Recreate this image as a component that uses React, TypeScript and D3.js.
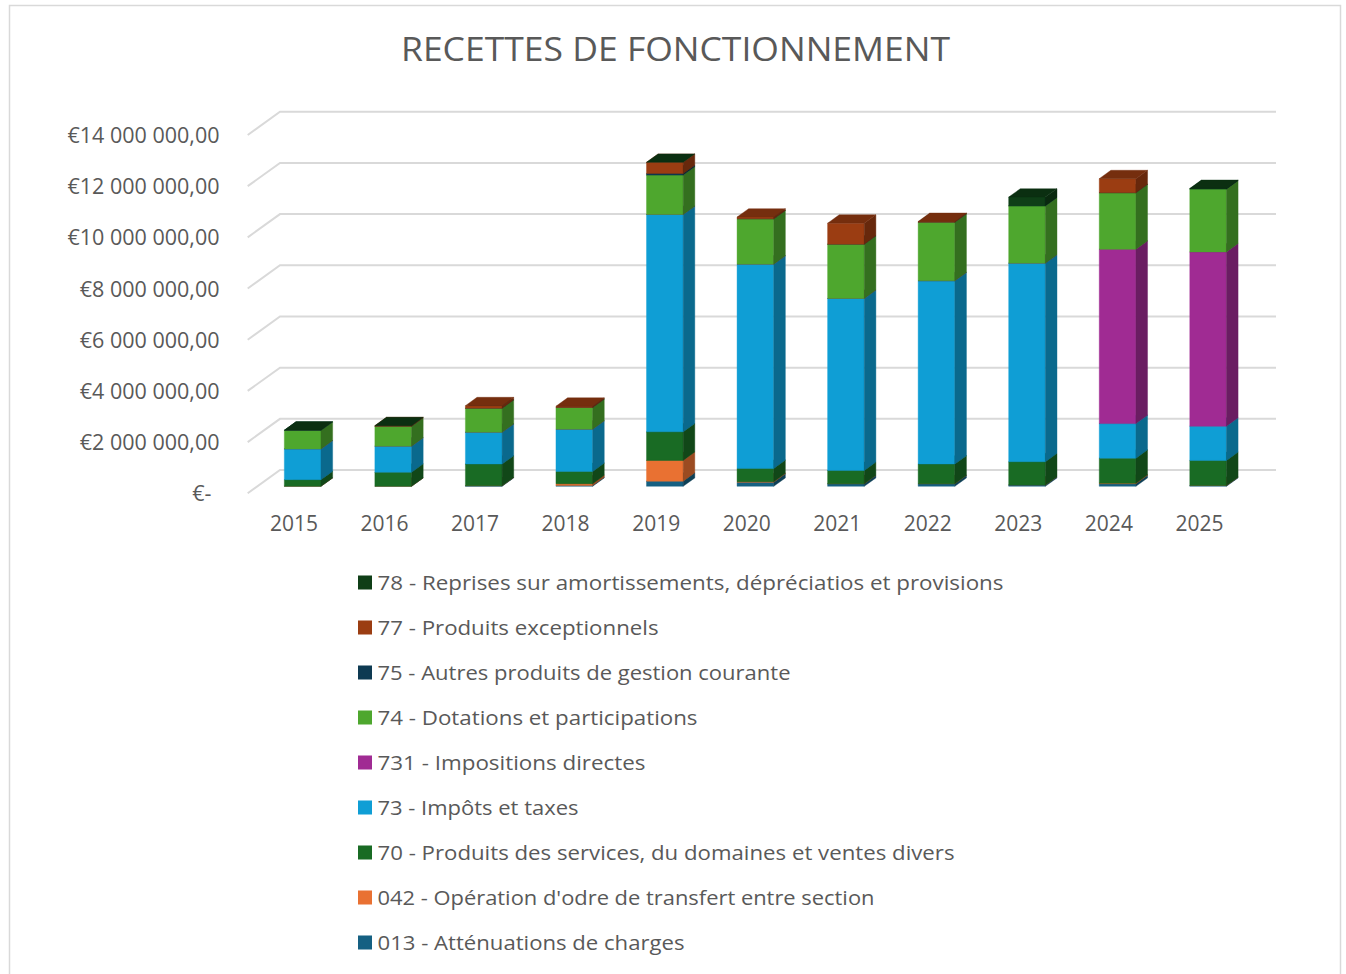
import React from "react";
import * as d3 from "d3";

const years = ["2015", "2016", "2017", "2018", "2019", "2020", "2021", "2022", "2023", "2024", "2025"];

// values in euros, stacked bottom -> top
const s013 = [0, 0, 20000, 30000, 200000, 160000, 100000, 100000, 50000, 100000, 30000];
const s042 = [0, 0, 0, 70000, 810000, 20000, 0, 0, 0, 20000, 0];
const s70 = [260000, 550000, 850000, 480000, 1120000, 520000, 520000, 770000, 910000, 980000, 980000];
const s73 = [1200000, 1020000, 1240000, 1650000, 8490000, 7980000, 6720000, 7160000, 7760000, 1350000, 1340000];
const s731 = [0, 0, 0, 0, 0, 0, 0, 0, 0, 6810000, 6810000];
const s74 = [730000, 780000, 940000, 850000, 1540000, 1770000, 2120000, 2290000, 2240000, 2210000, 2460000];
const s75 = [0, 0, 0, 0, 60000, 0, 0, 0, 0, 0, 0];
const s77 = [null, 20000, 100000, 50000, 440000, 70000, 820000, 30000, null, 550000, null];
const s78 = [0, 0, null, null, 0, null, null, null, 340000, null, 20000];

const seriesLabels = [
  "013 - Atténuations de charges",
  "042 - Opération d'odre de transfert entre section",
  "70 - Produits des services, du domaines et ventes divers",
  "73 - Impôts et taxes",
  "731 - Impositions directes",
  "74 - Dotations et participations",
  "75 - Autres produits de gestion courante",
  "77 - Produits exceptionnels",
  "78 - Reprises sur amortissements, dépréciatios et provisions",
];
const seriesColors = ["#156082", "#E97132", "#196B24", "#0F9ED5", "#A02B93", "#4EA72E", "#0E3A52", "#9B3D12", "#0F3E17"];
const seriesValues = [s013, s042, s70, s73, s731, s74, s75, s77, s78];
// measured legend text widths
const legendWidths = [307, 497, 577, 201, 268, 320, 413, 281, 626];

const yTicks = [0, 2000000, 4000000, 6000000, 8000000, 10000000, 12000000, 14000000];

const locale = d3.formatLocale({ decimal: ",", thousands: " ", grouping: [3], currency: ["€", ""] });
const fmt = locale.format("$,.2f");

const FONT = "'Open Sans', 'Liberation Sans', Arial, sans-serif";
const TEXT = "#595959";
const GRID = "#d9d9d9";

export default function App() {
  const DX = 32.3;
  const DY = 23.3;
  const d0 = 0.3;
  const d1 = 0.66;
  const X0 = 247.7;
  const X1 = 1243.7;

  const y = d3.scaleLinear().domain([0, 14000000]).range([493.3, 135]);
  const x = d3.scaleBand().domain(years).range([X0, X1]).paddingInner(0.595).paddingOuter(0.2975);
  const w = x.bandwidth();

  const proj = (px: number, v: number, d: number) => [px + d * DX, y(v) - d * DY];
  const pts = (arr: number[][]) => arr.map((p) => p.join(",")).join(" ");

  const boxes: React.ReactNode[] = [];
  years.forEach((yr, i) => {
    let base = 0;
    const xl = x(yr) as number;
    seriesValues.forEach((vals, s) => {
      const v = vals[i];
      if (v === null || v === undefined) return;
      const y0 = base;
      const y1 = base + v;
      base = y1;
      const c = seriesColors[s];
      const side = d3.color(c)!.darker(1.15).formatHex();
      const top = d3.color(c)!.darker(0.8).formatHex();
      const front = [proj(xl, y0, d0), proj(xl + w, y0, d0), proj(xl + w, y1, d0), proj(xl, y1, d0)];
      const sideP = [proj(xl + w, y0, d0), proj(xl + w, y0, d1), proj(xl + w, y1, d1), proj(xl + w, y1, d0)];
      const topP = [proj(xl, y1, d0), proj(xl + w, y1, d0), proj(xl + w, y1, d1), proj(xl, y1, d1)];
      boxes.push(
        <g key={`${yr}-${s}`}>
          {v > 0 && <polygon points={pts(front)} fill={c} stroke={c} strokeWidth={0.4} />}
          {v > 0 && <polygon points={pts(sideP)} fill={side} stroke={side} strokeWidth={0.4} />}
          <polygon points={pts(topP)} fill={top} stroke={top} strokeWidth={0.4} />
        </g>
      );
    });
  });

  const legendOrder = d3.range(seriesLabels.length).reverse();

  return (
    <svg width={1346} height={974} style={{ position: "absolute", left: 0, top: 0, background: "#fff" }} fontFamily={FONT}>
      <rect x={0} y={0} width={1346} height={974} fill="#fff" />
      <rect x={9.5} y={5.5} width={1331} height={1000} fill="none" stroke={GRID} strokeWidth={1.5} />
      <text x={675.5} y={61} textAnchor="middle" fontSize={32} fill={TEXT} textLength={549} lengthAdjust="spacingAndGlyphs">
        RECETTES DE FONCTIONNEMENT
      </text>

      {yTicks.map((t) => {
        const a = proj(X0, t, 0);
        const b = proj(X0, t, 1);
        const c = proj(X1, t, 1);
        return (
          <path key={t} d={`M${a[0]},${a[1]}L${b[0]},${b[1]}L${c[0]},${c[1]}`} fill="none" stroke={GRID} strokeWidth={2} />
        );
      })}

      {yTicks.map((t) => (
        <text
          key={"l" + t}
          x={t === 0 ? 211.5 : 219.5}
          y={y(t) + 8}
          textAnchor="end"
          fontSize={21.5}
          fill={TEXT}
        >
          {t === 0 ? "€-" : fmt(t)}
        </text>
      ))}

      {years.map((yr) => (
        <text key={"x" + yr} x={(x(yr) as number) + w / 2 + 1} y={531} textAnchor="middle" fontSize={21} fill={TEXT}>
          {yr}
        </text>
      ))}

      {boxes}

      {legendOrder.map((s, k) => (
        <g key={"lg" + s} transform={`translate(358,${575.5 + k * 45})`}>
          <rect x={0} y={0} width={14} height={14} fill={seriesColors[s]} />
          <text x={19.5} y={14.5} fontSize={20} fill={TEXT} textLength={legendWidths[s]} lengthAdjust="spacingAndGlyphs">
            {seriesLabels[s]}
          </text>
        </g>
      ))}
    </svg>
  );
}
